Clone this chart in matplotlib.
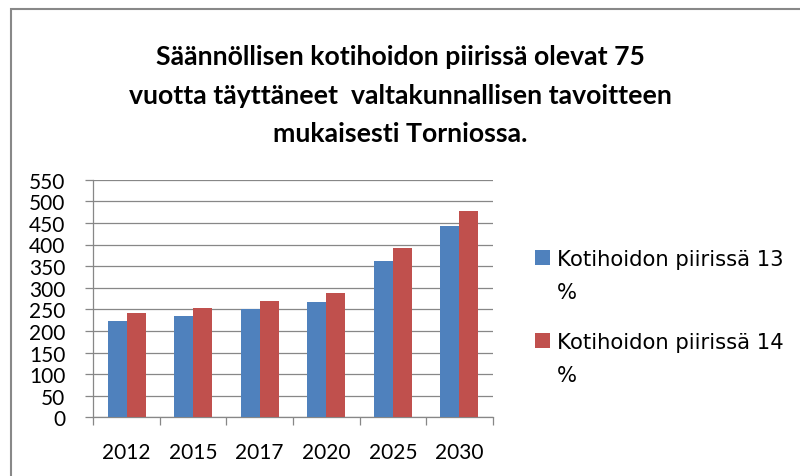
import matplotlib
matplotlib.use("Agg")
import matplotlib.pyplot as plt
import numpy as np
from matplotlib.patches import Rectangle

years = ["2012", "2015", "2017", "2020", "2025", "2030"]
series13 = [224, 235, 250, 266, 362, 442]
series14 = [242, 254, 269, 287, 391, 477]
labels = ["Kotihoidon piirissä 13 %", "Kotihoidon piirissä 14 %"]
colors = ["#4F81BD", "#C0504D"]
title_lines = ["Säännöllisen kotihoidon piirissä olevat 75",
               "vuotta täyttäneet  valtakunnallisen tavoitteen",
               "mukaisesti Torniossa."]
yticks = list(range(0, 551, 50))

plt.rcParams['font.family'] = ['Lato', 'DejaVu Sans']

W, H = 800, 477
fig = plt.figure(figsize=(W / 100, H / 100), dpi=100)
fig.patch.set_facecolor("white")

def fx(px):
    return px / W

def fy(py):
    return 1 - py / H

# chart border
fig.add_artist(Rectangle((fx(10.5), -0.1), 1.2, fy(10) + 0.1,
                         transform=fig.transFigure, fill=False,
                         edgecolor="#888888", linewidth=1.5))

ax = fig.add_axes([fx(93.3), fy(418.3), (492.7 - 93.3) / W, (418.3 - 180.7) / H])
x = np.arange(len(years))
w = 0.285
ax.bar(x - w / 2, series13, width=w, color=colors[0], label=labels[0], zorder=3)
ax.bar(x + w / 2, series14, width=w, color=colors[1], label=labels[1], zorder=3)

ax.set_xlim(-0.5, len(years) - 0.5)
ax.set_ylim(0, 550)
ax.set_yticks(yticks)
ax.set_yticklabels([str(v) for v in yticks], fontsize=15)
ax.yaxis.grid(True, color="#878787", linewidth=0.9, zorder=0)
ax.set_axisbelow(True)

ax.set_xticks(x)
ax.set_xticklabels(years, fontsize=15)
ax.tick_params(axis='x', which='major', length=0, pad=18)
ax.set_xticks(np.arange(-0.5, len(years), 1.0), minor=True)
ax.tick_params(axis='x', which='minor', length=6, color="#878787", width=0.9)
ax.tick_params(axis='y', length=6, color="#878787", width=0.9, pad=14)

for s in ["top", "right"]:
    ax.spines[s].set_visible(False)
for s in ["left", "bottom"]:
    ax.spines[s].set_color("#878787")
    ax.spines[s].set_linewidth(0.9)

# title
for line, base in zip(title_lines, [65, 103.5, 142]):
    fig.text(0.5, fy(base), line, ha="center", va="baseline",
             fontsize=19.2, fontweight="bold")

# legend (label wraps before the "%")
for i, (lab, col) in enumerate(zip(labels, colors)):
    b1 = 266 + 83 * i
    fig.add_artist(Rectangle((fx(535), fy(b1)), 15 / W, 15 / H,
                             transform=fig.transFigure, facecolor=col,
                             edgecolor="none"))
    first, last = lab.rsplit(" ", 1)
    fig.text(fx(557), fy(b1), first, ha="left", va="baseline",
             fontsize=15.2, family=['DejaVu Sans'])
    fig.text(fx(557), fy(b1 + 33), last, ha="left", va="baseline",
             fontsize=15.2, family=['DejaVu Sans'])

fig.savefig("out.png", dpi=100)
